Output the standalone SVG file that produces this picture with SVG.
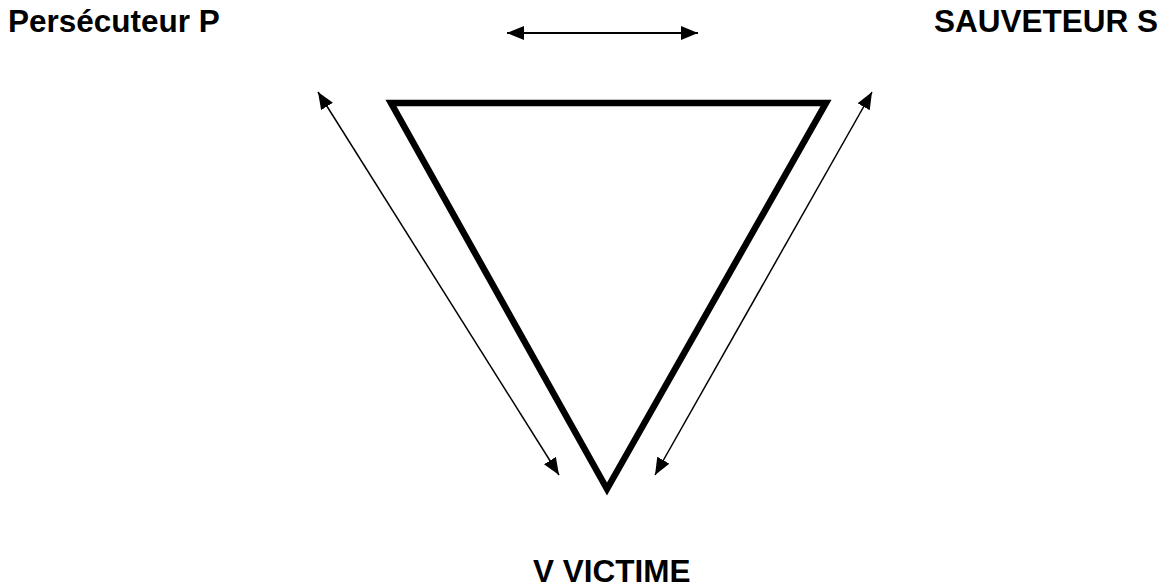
<svg xmlns="http://www.w3.org/2000/svg" width="1166" height="588" viewBox="0 0 1166 588">
<style>
.lbl{font-family:"Liberation Sans",Arial,sans-serif;font-weight:bold;font-size:31.5px;fill:#000}
.arr{stroke:#000;fill:none}
</style>
<defs>
<marker id="ah" markerUnits="userSpaceOnUse" markerWidth="17" markerHeight="14" refX="17" refY="7" orient="auto-start-reverse">
<path d="M0,0 L17,7 L0,14 Z" fill="#000"/>
</marker>
</defs>
<rect width="1166" height="588" fill="#fff"/>
<g id="triangle">
<polygon points="391,103 826,103 607,489" fill="none" stroke="#000" stroke-width="6.5" stroke-linejoin="miter"/>
</g>
<g id="persecuteur"><text class="lbl" x="8" y="32">Persécuteur P</text></g>
<g id="sauveteur"><text class="lbl" x="934" y="32">SAUVETEUR S</text></g>
<g id="victime"><text class="lbl" x="533" y="582">V VICTIME</text></g>
<g id="connectors">
<line class="arr" x1="507" y1="33" x2="698" y2="33" stroke-width="2.2" marker-start="url(#ah)" marker-end="url(#ah)"/>
<line class="arr" x1="318" y1="92" x2="559" y2="475" stroke-width="1.5" marker-start="url(#ah)" marker-end="url(#ah)"/>
<line class="arr" x1="872" y1="92" x2="655" y2="475" stroke-width="1.5" marker-start="url(#ah)" marker-end="url(#ah)"/>
</g>
</svg>
